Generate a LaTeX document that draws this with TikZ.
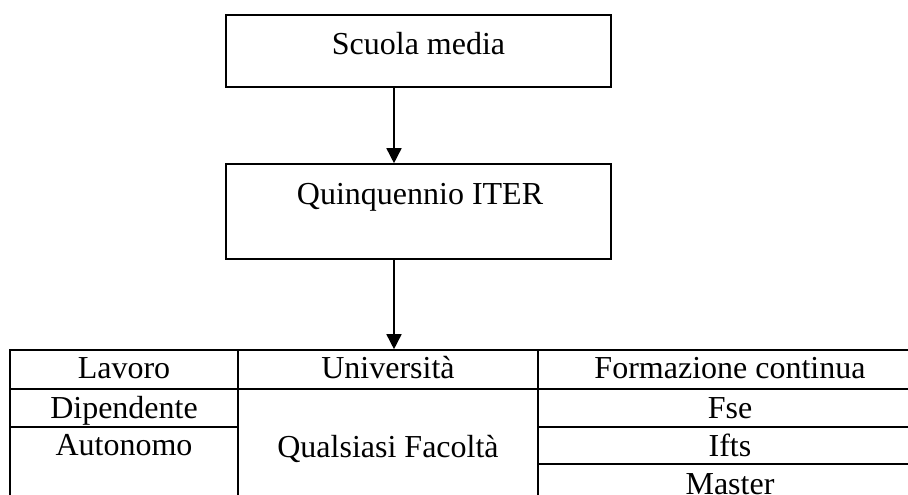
\documentclass[tikz,border=0pt]{standalone}
\usepackage{fontspec}
\setmainfont{Liberation Serif}
\usetikzlibrary{arrows.meta}
\begin{document}
\begin{tikzpicture}[x=1pt,y=-1pt,
  every node/.style={font=\fontsize{32}{38}\selectfont, inner sep=0pt},
  boxnode/.style={draw, line width=1.6pt, rectangle},
  txt/.style={anchor=base},
  arr/.style={line width=1.6pt, -{Triangle[width=15pt,length=15pt]}},
  rule/.style={line width=1.6pt}]
\useasboundingbox (0,0) rectangle (908,495);
\clip (0,0) rectangle (908,495);
% boxes
\node[boxnode, minimum width=385pt, minimum height=72pt] (s) at (418.5,51) {};
\node[txt] (stext) at (418.5,55) {Scuola media};
\node[boxnode, minimum width=385pt, minimum height=95pt] (q) at (418.5,211.5) {};
\node[txt] (qtext) at (420,204) {Quinquennio ITER};
% table frame
\node[boxnode, minimum width=912pt, minimum height=153pt] (tab) at (466,426.5) {};
\coordinate (c1t) at (238,350);
\coordinate (c1b) at (238,503);
\coordinate (c2t) at (538,350);
\coordinate (c2b) at (538,503);
\draw[rule] (c1t) -- (c1b);
\draw[rule] (c2t) -- (c2b);
\draw[rule] (10,389) -- (922,389);
\draw[rule] (10,427) -- (238,427);
\draw[rule] (538,427) -- (922,427);
\draw[rule] (538,464) -- (922,464);
% table texts
\node[txt] (lav) at (124,378) {Lavoro};
\node[txt] (uni) at (388,378) {Università};
\node[txt] (form) at (730,378) {Formazione continua};
\node[txt] (dip) at (124,418) {Dipendente};
\node[txt] (aut) at (124,455) {Autonomo};
\node[txt] (qual) at (388,457) {Qualsiasi Facoltà};
\node[txt] (fse) at (730,418) {Fse};
\node[txt] (ifts) at (730,456) {Ifts};
\node[txt] (mast) at (730,494) {Master};
% arrows
\draw[arr] ([xshift=-24.5pt]s.south) -- ([xshift=-24.5pt]q.north);
\draw[arr] ([xshift=-24.5pt]q.south) -- ([xshift=-24.5pt]q.south |- tab.north);
\end{tikzpicture}
\end{document}
